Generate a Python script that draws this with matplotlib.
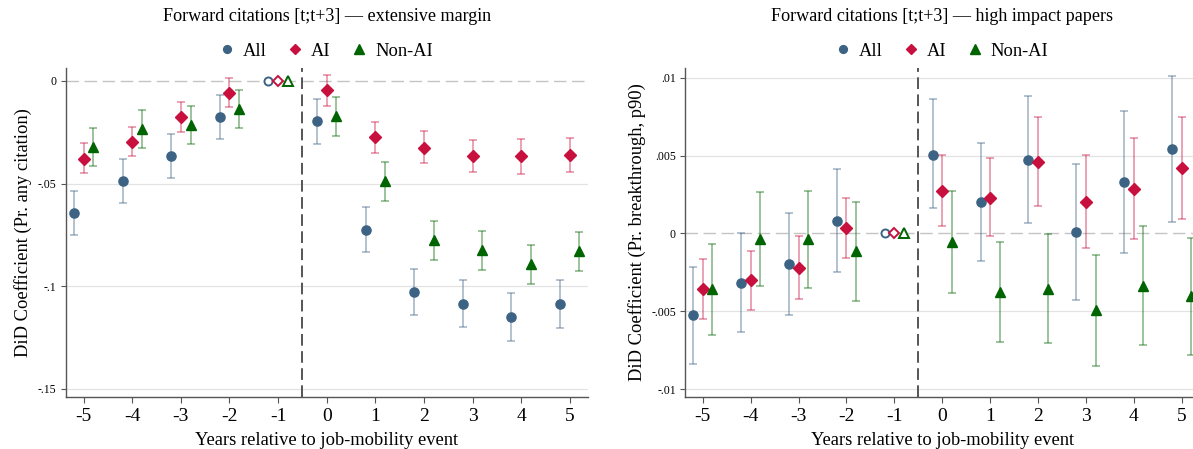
import numpy as np
import matplotlib
matplotlib.use("Agg")
import matplotlib.pyplot as plt
from matplotlib.lines import Line2D

nan = np.nan

# event time relative to the move; -1 is the omitted reference year
years = [-5, -4, -3, -2, -1, 0, 1, 2, 3, 4, 5]
ref_year = -1

# panel 1: extensive margin (Pr. any citation)
ext_all = [-0.0643, -0.0487, -0.0365, -0.0178, 0.0, -0.0197, -0.0725, -0.1029, -0.1085, -0.1148, -0.1087]
ext_all_lo = [-0.0749, -0.0596, -0.0472, -0.0283, nan, -0.0306, -0.0834, -0.1140, -0.1197, -0.1265, -0.1203]
ext_all_hi = [-0.0536, -0.0379, -0.0257, -0.0068, nan, -0.0086, -0.0614, -0.0915, -0.0971, -0.1033, -0.0969]
ext_ai = [-0.0379, -0.0296, -0.0176, -0.0059, 0.0, -0.0047, -0.0275, -0.0326, -0.0368, -0.0368, -0.0363]
ext_ai_lo = [-0.0451, -0.0368, -0.0248, -0.0129, nan, -0.0121, -0.0349, -0.0401, -0.0446, -0.0453, -0.0446]
ext_ai_hi = [-0.0305, -0.0225, -0.0104, 0.0013, nan, 0.0028, -0.0200, -0.0244, -0.0287, -0.0285, -0.0278]
ext_nonai = [-0.0322, -0.0236, -0.0215, -0.0136, 0.0, -0.0172, -0.0490, -0.0777, -0.0825, -0.0894, -0.0831]
ext_nonai_lo = [-0.0415, -0.0329, -0.0308, -0.0228, nan, -0.0267, -0.0585, -0.0871, -0.0920, -0.0990, -0.0928]
ext_nonai_hi = [-0.0230, -0.0143, -0.0122, -0.0044, nan, -0.0077, -0.0396, -0.0682, -0.0730, -0.0798, -0.0734]

# panel 2: high impact papers (Pr. breakthrough, p90)
hi_all = [-0.00527, -0.00319, -0.00197, 0.00081, 0.0, 0.00507, 0.00201, 0.00473, 0.00006, 0.00328, 0.00540]
hi_all_lo = [-0.00839, -0.00634, -0.00527, -0.00246, nan, 0.00163, -0.00176, 0.00066, -0.00430, -0.00128, 0.00073]
hi_all_hi = [-0.00218, 0.00000, 0.00131, 0.00411, nan, 0.00863, 0.00582, 0.00884, 0.00443, 0.00786, 0.01009]
hi_ai = [-0.00358, -0.00302, -0.00221, 0.00032, 0.0, 0.00274, 0.00229, 0.00458, 0.00203, 0.00287, 0.00418]
hi_ai_lo = [-0.00548, -0.00490, -0.00420, -0.00161, nan, 0.00049, -0.00019, 0.00176, -0.00094, -0.00039, 0.00092]
hi_ai_hi = [-0.00167, -0.00111, -0.00019, 0.00229, nan, 0.00501, 0.00482, 0.00745, 0.00503, 0.00612, 0.00745]
hi_nonai = [-0.00360, -0.00037, -0.00038, -0.00114, 0.0, -0.00055, -0.00378, -0.00354, -0.00495, -0.00335, -0.00405]
hi_nonai_lo = [-0.00653, -0.00338, -0.00351, -0.00435, nan, -0.00383, -0.00700, -0.00704, -0.00852, -0.00715, -0.00782]
hi_nonai_hi = [-0.00069, 0.00263, 0.00274, 0.00203, nan, 0.00274, -0.00056, -0.00004, -0.00137, 0.00045, -0.00028]

ext_yticks = [0, -0.05, -0.1, -0.15]
ext_yticklabels = ["0", "-.05", "-.1", "-.15"]
hi_yticks = [0.01, 0.005, 0, -0.005, -0.01]
hi_yticklabels = [".01", ".005", "0", "-.005", "-.01"]

series_names = ["All", "AI", "Non-AI"]
colors = ["#3d6384", "#c8103f", "#006400"]
markers = ["o", "D", "^"]
msizes = [6.6, 6.4, 7.8]
offsets = [-0.2, 0.0, 0.2]

plt.rcParams["font.family"] = ["Liberation Serif", "DejaVu Serif"]

W, H = 1193, 449
fig = plt.figure(figsize=(W / 100, H / 100), dpi=100)
bottom = 1 - 397.3 / H
height = (397.3 - 67.5) / H
ax1 = fig.add_axes([65.7 / W, bottom, 522 / W, height])
ax2 = fig.add_axes([685 / W, bottom, 514.5 / W, height])


def draw_panel(ax, series, ylim, yticks, yticklabels, ylabel, title):
    ax.set_xlim(-5.37, 5.37)
    ax.set_ylim(*ylim)
    for yt in yticks:
        if yt != 0:
            ax.axhline(yt, color="#e3e3e3", lw=0.9, zorder=0)
    ax.axhline(0, color="#c4c4c4", lw=1.0, ls=(0, (9, 4)), zorder=0)
    ax.axvline(-0.5, color="#555555", lw=1.4, ls=(0, (6, 2.8)), zorder=1)

    for (coef, lo, hi), col, mk, ms, off in zip(series, colors, markers, msizes, offsets):
        x = np.array(years) + off
        coef = np.array(coef)
        lo = np.array(lo)
        hi = np.array(hi)
        keep = np.array(years) != ref_year
        ax.errorbar(x[keep], coef[keep],
                    yerr=[coef[keep] - lo[keep], hi[keep] - coef[keep]],
                    fmt="none", ecolor=col, alpha=0.42, elinewidth=1.3,
                    capsize=2.6, capthick=1.3, zorder=2)
        ax.plot(x[keep], coef[keep], ls="none", marker=mk, ms=ms,
                color=col, mec=col, zorder=3)
        ax.plot(x[~keep], coef[~keep], ls="none", marker=mk, ms=ms - 0.8,
                mfc="white", mec=col, mew=1.4, zorder=3)

    ax.set_xticks(years)
    ax.set_xticklabels([str(y) for y in years])
    ax.set_yticks(yticks)
    ax.set_yticklabels(yticklabels)
    ax.tick_params(axis="x", labelsize=14, length=4, width=0.8, color="#555555", pad=4)
    ax.tick_params(axis="y", labelsize=8.5, length=3.5, width=0.8, color="#555555", pad=3)
    for side in ["top", "right"]:
        ax.spines[side].set_visible(False)
    for side in ["left", "bottom"]:
        ax.spines[side].set_color("#555555")
        ax.spines[side].set_linewidth(1.0)
    ax.set_xlabel("Years relative to job-mobility event", fontsize=13.3, labelpad=5)
    ax.set_ylabel(ylabel, fontsize=13.3, labelpad=4)

    # title and legend sit above the plot region
    ax.text(0.5, 1.14, title, transform=ax.transAxes, ha="center", va="baseline", fontsize=13.1)
    handles = [Line2D([], [], ls="none", marker=mk, color=col, ms=ms * 0.85)
               for col, mk, ms in zip(colors, markers, msizes)]
    ax.legend(handles, series_names, loc="center", bbox_to_anchor=(0.5, 1.05),
              ncol=3, frameon=False, fontsize=13.3, handlelength=0.7,
              handletextpad=0.5, columnspacing=1.2, borderpad=0)


draw_panel(ax1,
           [(ext_all, ext_all_lo, ext_all_hi), (ext_ai, ext_ai_lo, ext_ai_hi),
            (ext_nonai, ext_nonai_lo, ext_nonai_hi)],
           (-0.1541, 0.0065), ext_yticks, ext_yticklabels,
           "DiD Coefficient (Pr. any citation)",
           "Forward citations [t;t+3] \u2014 extensive margin")
draw_panel(ax2,
           [(hi_all, hi_all_lo, hi_all_hi), (hi_ai, hi_ai_lo, hi_ai_hi),
            (hi_nonai, hi_nonai_lo, hi_nonai_hi)],
           (-0.01053, 0.01066), hi_yticks, hi_yticklabels,
           "DiD Coefficient (Pr. breakthrough, p90)",
           "Forward citations [t;t+3] \u2014 high impact papers")

fig.savefig("out.png", dpi=100)
